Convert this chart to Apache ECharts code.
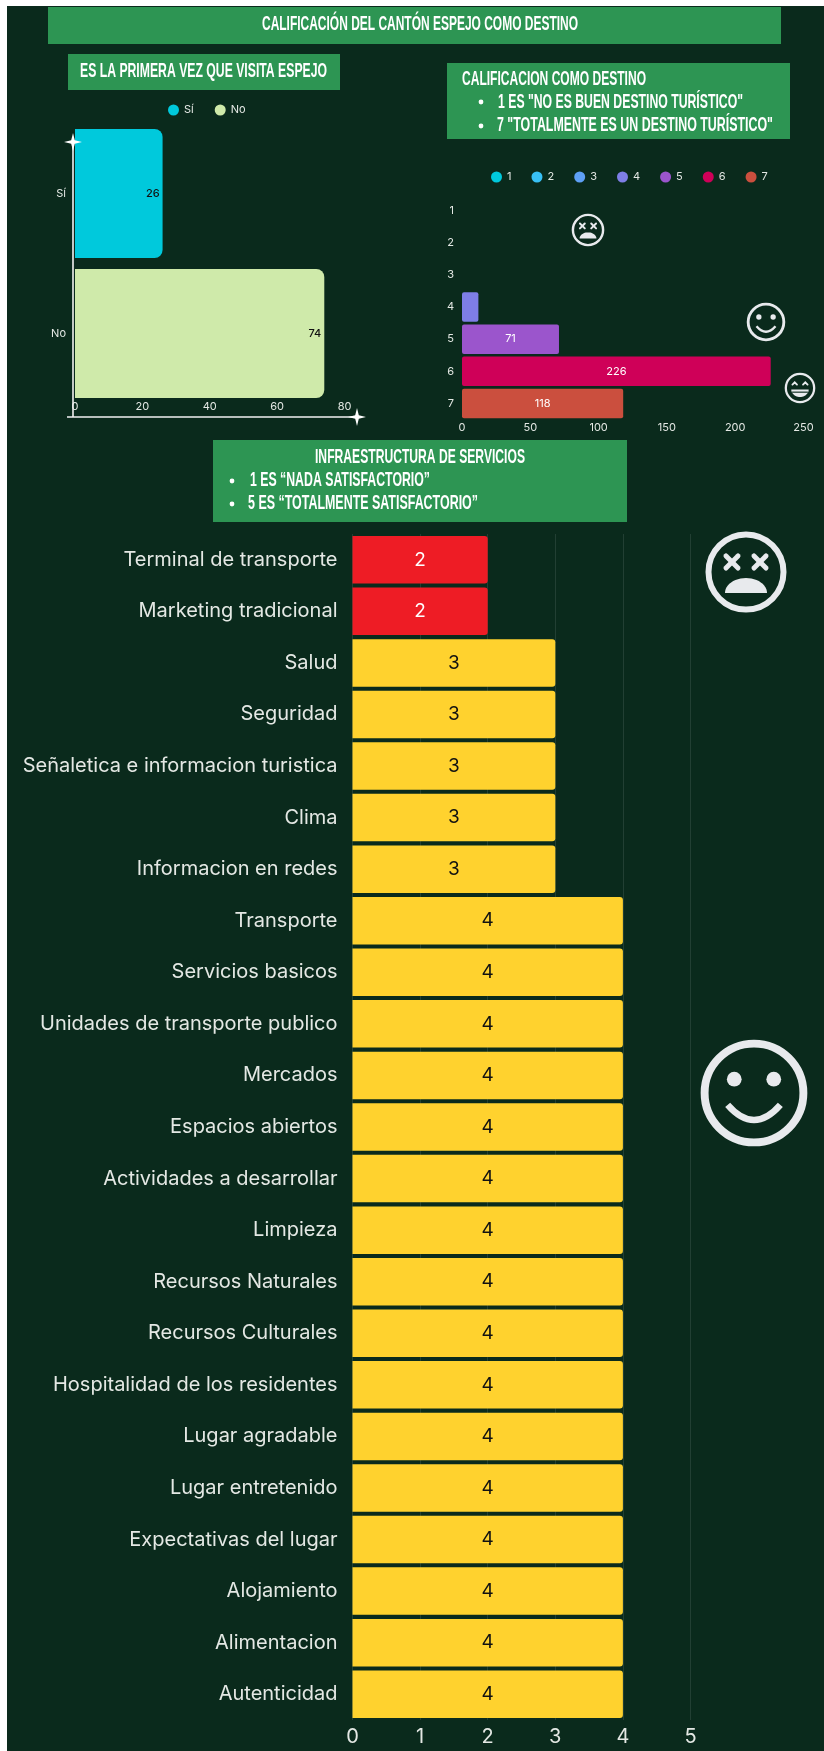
<!doctype html>
<html lang="en">
<head>
    <meta charset="UTF-8">
    <script src="https://cdn.jsdelivr.net/npm/echarts@6/dist/echarts.min.js"></script>
    <title>Calificación del cantón Espejo como destino</title>
    <style>
        html, body { margin: 0; padding: 0; background: #fff; }
        #chart { width: 824px; height: 1751px; }
    </style>
</head>
<body>
<div id="chart"></div>
<script>
    // primera visita
    var visitaNames = ['Sí', 'No'];
    var visitaValues = [26, 74];
    var visitaColors = ['#00c9dc', '#cfeaaa'];

    // calificacion como destino
    var notaNames = ['1', '2', '3', '4', '5', '6', '7'];
    var notaValues = [null, null, null, 12, 71, 226, 118];
    var notaColors = ['#00c9dc', '#38c0f5', '#5ea0f5', '#7e7ee6', '#9b55cc', '#cf0058', '#cb4f3e'];

    // infraestructura de servicios
    var servicios = ['Terminal de transporte', 'Marketing tradicional', 'Salud', 'Seguridad',
        'Señaletica e informacion turistica', 'Clima', 'Informacion en redes', 'Transporte',
        'Servicios basicos', 'Unidades de transporte publico', 'Mercados', 'Espacios abiertos',
        'Actividades a desarrollar', 'Limpieza', 'Recursos Naturales', 'Recursos Culturales',
        'Hospitalidad de los residentes', 'Lugar agradable', 'Lugar entretenido',
        'Expectativas del lugar', 'Alojamiento', 'Alimentacion', 'Autenticidad'];
    var serviciosValues = [2, 2, 3, 3, 3, 3, 3, 4, 4, 4, 4, 4, 4, 4, 4, 4, 4, 4, 4, 4, 4, 4, 4];

    var BG = '#0a2a1c', GREEN = '#2d9553', FACE = '#e8eaed';
    var LABEL_FONT = 'Inter, "Open Sans", sans-serif';
    var HEAD_FONT = 'bold 21px "Liberation Sans Narrow", "Liberation Sans", sans-serif';

    var ctx = document.createElement('canvas').getContext('2d');
    ctx.font = HEAD_FONT;

    // texto de titulo, comprimido para que ocupe el ancho del original
    function head(text, x0, x1, y) {
        return {
            type: 'text', x: x0, y: y, z: 10,
            scaleX: (x1 - x0) / ctx.measureText(text).width,
            style: {text: text, fill: '#fff', font: HEAD_FONT, verticalAlign: 'middle'}
        };
    }
    function box(x0, y0, x1, y1) {
        return {type: 'rect', z: 5, shape: {x: x0, y: y0, width: x1 - x0, height: y1 - y0}, style: {fill: GREEN}};
    }
    function bullet(x, y) {
        return {type: 'circle', z: 10, shape: {cx: x, cy: y, r: 2.4}, style: {fill: '#fff'}};
    }
    function line(x1, y1, x2, y2) {
        return {type: 'line', z: 10, shape: {x1: x1, y1: y1, x2: x2, y2: y2}, style: {stroke: '#f2f2f2', lineWidth: 1.6}};
    }
    function star(x, y, r) {
        var k = r * 0.2;
        return {
            type: 'polygon', z: 11,
            shape: {points: [[x, y - r], [x + k, y - k], [x + r, y], [x + k, y + k], [x, y + r], [x - k, y + k], [x - r, y], [x - k, y - k]]},
            style: {fill: '#fff'}
        };
    }
    // media elipse cerrada, para las bocas de las caras
    function halfEllipse(cy, rx, ry) {
        var pts = [];
        for (var a = 0; a <= 24; a++) {
            var t = Math.PI * a / 24;
            pts.push([rx * Math.cos(t), cy + ry * Math.sin(t)]);
        }
        return {type: 'polygon', shape: {points: pts}, style: {fill: FACE}};
    }

    // caras dibujadas sobre un circulo de radio 41
    function face(kind, x, y, r) {
        var kids = [{type: 'circle', shape: {cx: 0, cy: 0, r: 37.5}, style: {fill: 'none', stroke: FACE, lineWidth: 6}}];
        var pen = {stroke: FACE, lineWidth: 5, fill: 'none', lineCap: 'round'};
        if (kind === 'dead') {
            [-14, 14].forEach(function (ex) {
                kids.push({type: 'line', shape: {x1: ex - 6, y1: -16, x2: ex + 6, y2: -4}, style: pen});
                kids.push({type: 'line', shape: {x1: ex - 6, y1: -4, x2: ex + 6, y2: -16}, style: pen});
            });
            kids.push(halfEllipse(21, 21, -15));
        } else if (kind === 'smile') {
            [-15, 15].forEach(function (ex) {
                kids.push({type: 'circle', shape: {cx: ex, cy: -10.5, r: 5.6}, style: {fill: FACE}});
            });
            kids.push({type: 'bezierCurve', shape: {x1: -20, y1: 9, x2: 20, y2: 9, cpx1: 0, cpy1: 32}, style: {fill: 'none', stroke: FACE, lineWidth: 5}});
        } else {
            [-14, 14].forEach(function (ex) {
                kids.push({type: 'polyline', shape: {points: [[ex - 6, -9], [ex, -15], [ex + 6, -9]]}, style: pen});
            });
            kids.push(halfEllipse(4, 23, 20));
            kids.push({type: 'line', shape: {x1: -21, y1: 11, x2: 21, y2: 11}, style: {stroke: BG, lineWidth: 3}});
        }
        return {type: 'group', x: x, y: y, scaleX: r / 41, scaleY: r / 41, children: kids};
    }

    var myChart = echarts.init(document.getElementById('chart'));

    // una serie por categoria, para que la leyenda tenga sus colores
    function oneSeries(names, values, colors, grid, width, radius, label) {
        return names.map(function (name, i) {
            return {
                name: name, type: 'bar', stack: 'total', xAxisIndex: grid, yAxisIndex: grid,
                barWidth: width, itemStyle: {color: colors[i], borderRadius: radius},
                label: label(values[i]),
                data: names.map(function (n, j) { return j === i ? values[i] : null; })
            };
        });
    }

    var series = oneSeries(visitaNames, visitaValues, visitaColors, 0, 129, [0, 8, 8, 0], function () {
        return {show: true, position: 'insideRight', distance: 3, color: '#111', fontSize: 11, fontWeight: 500, fontFamily: LABEL_FONT};
    }).concat(oneSeries(notaNames, notaValues, notaColors, 1, 29.5, 2, function (v) {
        return {show: v >= 50, position: 'inside', color: '#fff', fontSize: 11, fontFamily: LABEL_FONT};
    }));

    series.push({
        name: 'Infraestructura', type: 'bar', xAxisIndex: 2, yAxisIndex: 2, barWidth: 47.5,
        itemStyle: {borderRadius: [0, 3, 3, 0]},
        label: {show: true, position: 'inside', fontSize: 19, fontFamily: LABEL_FONT},
        data: serviciosValues.map(function (v) {
            return {
                value: v,
                itemStyle: {color: v < 3 ? '#ee1c25' : '#ffd22e'},
                label: {color: v < 3 ? '#fff' : '#111'}
            };
        })
    });

    var axisText = {color: '#e4e8e4', fontFamily: LABEL_FONT};

    var option = {
        animation: false,
        grid: [
            {left: 75, top: 123.5, width: 269.5, height: 280},
            {left: 462, top: 194.5, width: 341.5, height: 225},
            {left: 352.5, top: 534, width: 338, height: 1186}
        ],
        legend: [
            {
                data: visitaNames, left: 163, top: 99.5, icon: 'circle', itemWidth: 11, itemHeight: 11, itemGap: 21,
                textStyle: {color: '#e4e8e4', fontSize: 11, fontFamily: LABEL_FONT}
            },
            {
                data: notaNames, left: 486, top: 166.5, icon: 'circle', itemWidth: 11, itemHeight: 11, itemGap: 20,
                textStyle: {color: '#e4e8e4', fontSize: 11, fontFamily: LABEL_FONT}
            }
        ],
        xAxis: [
            {
                gridIndex: 0, type: 'value', min: 0, max: 80, interval: 20,
                axisLine: {show: false}, axisTick: {show: false}, splitLine: {show: false},
                axisLabel: Object.assign({fontSize: 11, margin: -2}, axisText)
            },
            {
                gridIndex: 1, type: 'value', min: 0, max: 250, interval: 50,
                axisLine: {show: false}, axisTick: {show: false}, splitLine: {show: false},
                axisLabel: Object.assign({fontSize: 11, margin: 3}, axisText)
            },
            {
                gridIndex: 2, type: 'value', min: 0, max: 5, interval: 1,
                axisLine: {show: false}, axisTick: {show: false},
                splitLine: {lineStyle: {color: 'rgba(255,255,255,0.1)', width: 1}},
                axisLabel: Object.assign({fontSize: 20, margin: 7}, axisText)
            }
        ],
        yAxis: [
            {
                gridIndex: 0, type: 'category', inverse: true, data: visitaNames,
                axisLine: {show: false}, axisTick: {show: false},
                axisLabel: Object.assign({fontSize: 11, margin: 9}, axisText)
            },
            {
                gridIndex: 1, type: 'category', inverse: true, data: notaNames,
                axisLine: {show: false}, axisTick: {show: false},
                axisLabel: Object.assign({fontSize: 11, margin: 8}, axisText)
            },
            {
                gridIndex: 2, type: 'category', inverse: true, data: servicios,
                axisLine: {show: false}, axisTick: {show: false},
                axisLabel: Object.assign({fontSize: 20, margin: 15, interval: 0}, axisText)
            }
        ],
        graphic: {
            elements: [
                {type: 'rect', z: -10, shape: {x: 7, y: 6, width: 817, height: 1745}, style: {fill: BG}},
                box(48, 7, 781, 44), head('CALIFICACIÓN DEL CANTÓN ESPEJO COMO DESTINO', 262, 578, 24),
                box(68, 54, 340, 90), head('ES LA PRIMERA VEZ QUE VISITA ESPEJO', 80, 327, 71),
                box(447, 63, 790, 139), head('CALIFICACION COMO DESTINO', 462, 646, 79),
                bullet(481, 102), head('1 ES "NO ES BUEN DESTINO TURÍSTICO"', 498, 743, 102),
                bullet(481, 126), head('7 "TOTALMENTE ES UN DESTINO TURÍSTICO"', 497, 773, 125),
                box(213, 440, 627, 522), head('INFRAESTRUCTURA DE SERVICIOS', 315, 525, 457),
                bullet(232, 481), head('1 ES “NADA SATISFACTORIO”', 250, 430, 480),
                bullet(232, 504), head('5 ES “TOTALMENTE SATISFACTORIO”', 248, 478, 503),
                line(73, 142, 73, 417), line(67, 417, 357, 417),
                star(73, 142, 9), star(357, 417, 9),
                face('dead', 588, 230, 16.5), face('smile', 766, 322, 19.5), face('laugh', 800, 388, 15.5),
                face('dead', 746, 572, 41), face('smile', 754, 1093, 54)
            ]
        },
        series: series
    };

    myChart.setOption(option);
</script>
</body>
</html>
